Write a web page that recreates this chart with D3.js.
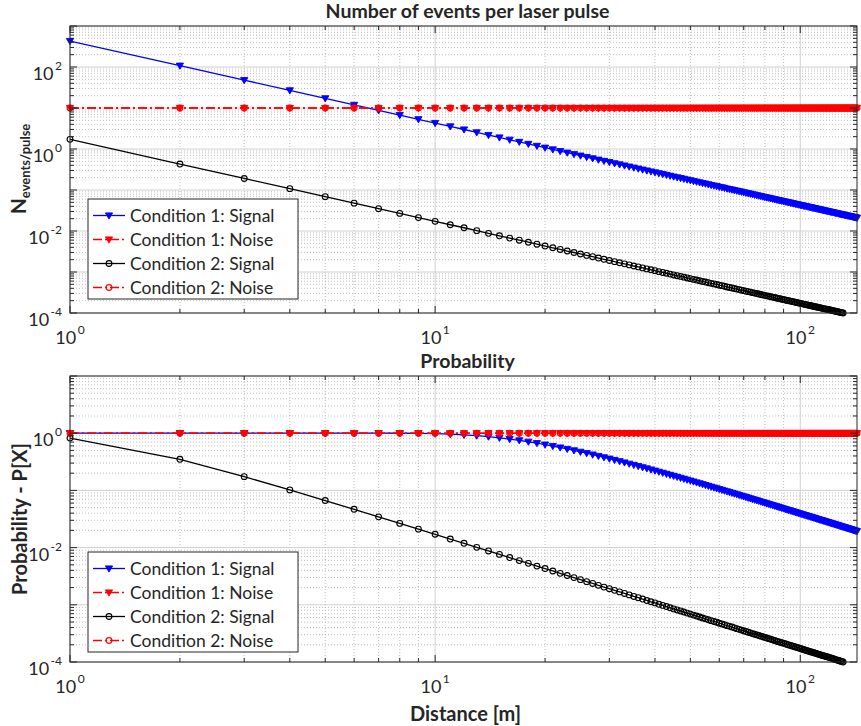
<!DOCTYPE html>
<html>
<head>
<meta charset="utf-8">
<script src="https://cdn.jsdelivr.net/npm/d3@7"></script>
<style>
  body { margin: 0; background: #fff; }
  text { font-family: Lato, "Open Sans", sans-serif; fill: #262626; }
</style>
</head>
<body>
<svg id="chart" width="861" height="726"></svg>
<script>
// distance in metres, one sample per metre
const distance = [
  1,2,3,4,5,6,7,8,9,10,11,12,13,14,15,16,17,18,19,20,
  21,22,23,24,25,26,27,28,29,30,31,32,33,34,35,36,37,38,39,40,
  41,42,43,44,45,46,47,48,49,50,51,52,53,54,55,56,57,58,59,60,
  61,62,63,64,65,66,67,68,69,70,71,72,73,74,75,76,77,78,79,80,
  81,82,83,84,85,86,87,88,89,90,91,92,93,94,95,96,97,98,99,100,
  101,102,103,104,105,106,107,108,109,110,111,112,113,114,115,116,117,118,119,120,
  121,122,123,124,125,126,127,128,129,130,131,132,133,134,135,136,137,138,139,140,
  141,142,143,144,145
];

// events per laser pulse
const cond1Signal = [
  430,107.5,47.8,26.9,17.2,11.9,8.78,6.72,5.31,4.30,
  3.55,2.99,2.54,2.19,1.91,1.68,1.49,1.33,1.19,1.075,
  0.975,0.888,0.813,0.747,0.688,0.636,0.590,0.548,0.511,0.478,
  0.447,0.420,0.395,0.372,0.351,0.332,0.314,0.298,0.283,0.269,
  0.256,0.244,0.233,0.222,0.212,0.203,0.195,0.187,0.179,0.172,
  0.165,0.159,0.153,0.147,0.142,0.137,0.132,0.128,0.124,0.119,
  0.116,0.112,0.108,0.105,0.102,0.0987,0.0958,0.0930,0.0903,0.0878,
  0.0853,0.0829,0.0807,0.0785,0.0764,0.0744,0.0725,0.0707,0.0689,0.0672,
  0.0655,0.0640,0.0624,0.0609,0.0595,0.0581,0.0568,0.0555,0.0543,0.0531,
  0.0519,0.0508,0.0497,0.0487,0.0476,0.0467,0.0457,0.0448,0.0439,0.0430,
  0.0422,0.0413,0.0405,0.0398,0.0390,0.0383,0.0376,0.0369,0.0362,0.0355,
  0.0349,0.0343,0.0337,0.0331,0.0325,0.0320,0.0314,0.0309,0.0304,0.0299,
  0.0294,0.0289,0.0284,0.0280,0.0275,0.0271,0.0267,0.0262,0.0258,0.0254,
  0.0251,0.0247,0.0243,0.0239,0.0236,0.0232,0.0229,0.0226,0.0223,0.0219,
  0.0216,0.0213,0.0210,0.0207,0.0205
];
const cond1Noise = [
  10,10,10,10,10,10,10,10,10,10,10,10,10,10,10,10,10,10,10,10,
  10,10,10,10,10,10,10,10,10,10,10,10,10,10,10,10,10,10,10,10,
  10,10,10,10,10,10,10,10,10,10,10,10,10,10,10,10,10,10,10,10,
  10,10,10,10,10,10,10,10,10,10,10,10,10,10,10,10,10,10,10,10,
  10,10,10,10,10,10,10,10,10,10,10,10,10,10,10,10,10,10,10,10,
  10,10,10,10,10,10,10,10,10,10,10,10,10,10,10,10,10,10,10,10,
  10,10,10,10,10,10,10,10,10,10,10,10,10,10,10,10,10,10,10,10,
  10,10,10,10,10
];
const cond2Signal = [
  1.72,0.430,0.191,0.108,0.0688,0.0478,0.0351,0.0269,0.0212,0.0172,
  0.0142,0.0120,0.0102,0.00876,0.00764,0.00672,0.00596,0.00532,0.00476,0.00430,
  0.00390,0.00355,0.00325,0.00299,0.00275,0.00254,0.00236,0.00219,0.00204,0.00191,
  0.00179,0.00168,0.00158,0.00149,0.00140,0.00133,0.00126,0.00119,0.00113,0.00108,
  0.00102,0.000976,0.000932,0.000888,0.000848,0.000812,0.000780,0.000748,0.000716,0.000688,
  0.000660,0.000636,0.000612,0.000588,0.000568,0.000548,0.000528,0.000512,0.000496,0.000476,
  0.000464,0.000448,0.000432,0.000420,0.000408,0.000395,0.000383,0.000372,0.000361,0.000351,
  0.000341,0.000332,0.000323,0.000314,0.000306,0.000298,0.000290,0.000283,0.000276,0.000269,
  0.000262,0.000256,0.000250,0.000244,0.000238,0.000232,0.000227,0.000222,0.000217,0.000212,
  0.000208,0.000203,0.000199,0.000195,0.000190,0.000187,0.000183,0.000179,0.000176,0.000172,
  0.000169,0.000165,0.000162,0.000159,0.000156,0.000153,0.000150,0.000148,0.000145,0.000142,
  0.000140,0.000137,0.000135,0.000132,0.000130,0.000128,0.000126,0.000124,0.000122,0.000120,
  0.000118,0.000116,0.000114,0.000112,0.000110,0.000108,0.000107,0.000105,0.000103,0.000102,
  0.000100,0.0000988,0.0000972,0.0000956,0.0000944,0.0000928,0.0000916,0.0000904,0.0000892,0.0000876,
  0.0000864,0.0000852,0.0000840,0.0000828,0.0000820
];
const cond2Noise = [
  10,10,10,10,10,10,10,10,10,10,10,10,10,10,10,10,10,10,10,10,
  10,10,10,10,10,10,10,10,10,10,10,10,10,10,10,10,10,10,10,10,
  10,10,10,10,10,10,10,10,10,10,10,10,10,10,10,10,10,10,10,10,
  10,10,10,10,10,10,10,10,10,10,10,10,10,10,10,10,10,10,10,10,
  10,10,10,10,10,10,10,10,10,10,10,10,10,10,10,10,10,10,10,10,
  10,10,10,10,10,10,10,10,10,10,10,10,10,10,10,10,10,10,10,10,
  10,10,10,10,10,10,10,10,10,10,10,10,10,10,10,10,10,10,10,10,
  10,10,10,10,10
];

// probability P[X]
const cond1SignalP = [
  1,1,1,1,1,0.99998,0.99971,0.99807,0.9929,0.9817,
  0.9633,0.9378,0.9062,0.8701,0.831,0.7904,0.7494,0.709,0.6698,0.6321,
  0.5963,0.5624,0.5305,0.5006,0.4727,0.4466,0.4223,0.3996,0.3785,0.3588,
  0.3405,0.3233,0.3074,0.2925,0.2786,0.2655,0.2534,0.2419,0.2312,0.2212,
  0.2118,0.2029,0.1945,0.1867,0.1792,0.1722,0.1656,0.1594,0.1535,0.1479,
  0.1426,0.1375,0.1327,0.1282,0.1238,0.1198,0.1158,0.1121,0.1085,0.1052,
  0.1019,0.0988,0.0959,0.0931,0.0904,0.0877,0.0853,0.0829,0.0806,0.0784,
  0.0763,0.0743,0.0723,0.0704,0.0686,0.0669,0.0653,0.0636,0.0621,0.0606,
  0.0591,0.0577,0.0564,0.0551,0.0538,0.0526,0.0515,0.0503,0.0492,0.0482,
  0.0471,0.0461,0.0452,0.0442,0.0433,0.0425,0.0416,0.0408,0.0400,0.0392,
  0.0384,0.0377,0.0370,0.0363,0.0356,0.0350,0.0343,0.0337,0.0331,0.0325,
  0.0319,0.0314,0.0308,0.0303,0.0298,0.0293,0.0288,0.0283,0.0279,0.0274,
  0.0270,0.0265,0.0261,0.0257,0.0253,0.0249,0.0245,0.0241,0.0238,0.0234,
  0.0230,0.0227,0.0224,0.0220,0.0217,0.0214,0.0211,0.0208,0.0205,0.0202,
  0.0199,0.0196,0.0194,0.0191,0.0188
];
const cond1NoiseP = [
  1,1,1,1,1,1,1,1,1,1,1,1,1,1,1,1,1,1,1,1,
  1,1,1,1,1,1,1,1,1,1,1,1,1,1,1,1,1,1,1,1,
  1,1,1,1,1,1,1,1,1,1,1,1,1,1,1,1,1,1,1,1,
  1,1,1,1,1,1,1,1,1,1,1,1,1,1,1,1,1,1,1,1,
  1,1,1,1,1,1,1,1,1,1,1,1,1,1,1,1,1,1,1,1,
  1,1,1,1,1,1,1,1,1,1,1,1,1,1,1,1,1,1,1,1,
  1,1,1,1,1,1,1,1,1,1,1,1,1,1,1,1,1,1,1,1,
  1,1,1,1,1
];
const cond2SignalP = [
  0.821,0.350,0.174,0.102,0.0665,0.0467,0.0345,0.0265,0.0210,0.0171,
  0.0141,0.0119,0.0101,0.00874,0.00761,0.00670,0.00593,0.00530,0.00475,0.00430,
  0.00390,0.00355,0.00325,0.00299,0.00275,0.00254,0.00236,0.00219,0.00204,0.00191,
  0.00179,0.00168,0.00158,0.00149,0.00140,0.00133,0.00126,0.00119,0.00113,0.00108,
  0.00102,0.000976,0.000932,0.000888,0.000848,0.000812,0.000780,0.000748,0.000716,0.000688,
  0.000660,0.000636,0.000612,0.000588,0.000568,0.000548,0.000528,0.000512,0.000496,0.000476,
  0.000464,0.000448,0.000432,0.000420,0.000408,0.000395,0.000383,0.000372,0.000361,0.000351,
  0.000341,0.000332,0.000323,0.000314,0.000306,0.000298,0.000290,0.000283,0.000276,0.000269,
  0.000262,0.000256,0.000250,0.000244,0.000238,0.000232,0.000227,0.000222,0.000217,0.000212,
  0.000208,0.000203,0.000199,0.000195,0.000190,0.000187,0.000183,0.000179,0.000176,0.000172,
  0.000169,0.000165,0.000162,0.000159,0.000156,0.000153,0.000150,0.000148,0.000145,0.000142,
  0.000140,0.000137,0.000135,0.000132,0.000130,0.000128,0.000126,0.000124,0.000122,0.000120,
  0.000118,0.000116,0.000114,0.000112,0.000110,0.000108,0.000107,0.000105,0.000103,0.000102,
  0.000100,0.0000988,0.0000972,0.0000956,0.0000944,0.0000928,0.0000916,0.0000904,0.0000892,0.0000876,
  0.0000864,0.0000852,0.0000840,0.0000828,0.0000820
];
const cond2NoiseP = cond1NoiseP.slice();

const seriesNames = ['Condition 1: Signal', 'Condition 1: Noise', 'Condition 2: Signal', 'Condition 2: Noise'];
const xTicks = [1, 10, 100];

const svg = d3.select('#chart');
const plotLeft = 70, plotRight = 857;
const axisColor = '#262626';
const dashDot = '9,3,2,3';

const styles = [
  {color: '#0000ff', dash: null, marker: 'tri'},
  {color: '#ff0000', dash: dashDot, marker: 'tri'},
  {color: '#000000', dash: null, marker: 'circle'},
  {color: '#ff0000', dash: dashDot, marker: 'circle'}
];

function drawMarker(sel, kind, color) {
  if (kind === 'tri') {
    sel.append('path')
      .attr('d', 'M-3.6,-2.6L3.6,-2.6L0,3.6Z')
      .attr('fill', color)
      .attr('stroke', color)
      .attr('stroke-width', 0.9);
  } else {
    sel.append('circle')
      .attr('r', 2.9)
      .attr('fill', 'none')
      .attr('stroke', color)
      .attr('stroke-width', 1.1);
  }
}

function powLabel(sel, exp) {
  sel.append('tspan').text('10');
  sel.append('tspan').attr('dy', -10).attr('font-size', 12).text('\u2009' + exp);
}

function drawPanel(p, idx) {
  const x = d3.scaleLog().domain([1, 143]).range([plotLeft, plotRight]);
  const y = d3.scaleLog().domain(p.yDomain).range([p.bottom, p.top]);
  const g = svg.append('g');

  const e0 = Math.round(Math.log10(p.yDomain[0]));
  const e1 = Math.round(Math.log10(p.yDomain[1]));
  const yMajor = d3.range(e0, e1 + 1).map(e => Math.pow(10, e));
  const yMinor = [];
  for (let e = e0; e < e1; e++) for (let m = 2; m <= 9; m++) yMinor.push(m * Math.pow(10, e));
  const xMinor = [];
  for (const k of xTicks) for (let m = 2; m <= 9; m++) if (k * m <= 143) xMinor.push(k * m);

  // minor grid (dotted)
  g.selectAll('.xmin').data(xMinor).enter().append('line')
    .attr('x1', d => x(d)).attr('x2', d => x(d))
    .attr('y1', p.top).attr('y2', p.bottom)
    .attr('stroke', '#b0b0b0').attr('stroke-width', 0.8).attr('stroke-dasharray', '1,2');
  g.selectAll('.ymin').data(yMinor).enter().append('line')
    .attr('x1', plotLeft).attr('x2', plotRight)
    .attr('y1', d => y(d)).attr('y2', d => y(d))
    .attr('stroke', '#b0b0b0').attr('stroke-width', 0.8).attr('stroke-dasharray', '1,2');
  // major grid
  g.selectAll('.xmaj').data(xTicks).enter().append('line')
    .attr('x1', d => x(d)).attr('x2', d => x(d))
    .attr('y1', p.top).attr('y2', p.bottom)
    .attr('stroke', '#d0d0d0').attr('stroke-width', 1);
  g.selectAll('.ymaj').data(yMajor).enter().append('line')
    .attr('x1', plotLeft).attr('x2', plotRight)
    .attr('y1', d => y(d)).attr('y2', d => y(d))
    .attr('stroke', '#d0d0d0').attr('stroke-width', 1);

  // clip for lines
  const clipId = 'clip' + idx;
  svg.append('clipPath').attr('id', clipId).append('rect')
    .attr('x', plotLeft).attr('y', p.top).attr('width', plotRight - plotLeft).attr('height', p.bottom - p.top);

  const line = d3.line().x(d => x(d[0])).y(d => y(d[1]));
  p.series.forEach((vals, i) => {
    const st = styles[i];
    const pts = distance.map((d, j) => [d, vals[j]]);
    g.append('path')
      .attr('d', line(pts))
      .attr('clip-path', 'url(#' + clipId + ')')
      .attr('fill', 'none')
      .attr('stroke', st.color)
      .attr('stroke-width', 1.3)
      .attr('stroke-dasharray', st.dash);
    const visible = pts.filter(d => d[0] <= 143 && d[1] >= p.yDomain[0] && d[1] <= p.yDomain[1]);
    const mk = g.append('g').selectAll('g').data(visible).enter().append('g')
      .attr('transform', d => `translate(${x(d[0])},${y(d[1])})`);
    drawMarker(mk, st.marker, st.color);
  });

  // box and ticks
  g.append('rect')
    .attr('x', plotLeft).attr('y', p.top).attr('width', plotRight - plotLeft).attr('height', p.bottom - p.top)
    .attr('fill', 'none').attr('stroke', axisColor).attr('stroke-width', 1);
  const tk = g.append('g').attr('stroke', axisColor).attr('stroke-width', 1);
  xTicks.forEach(v => {
    tk.append('line').attr('x1', x(v)).attr('x2', x(v)).attr('y1', p.bottom).attr('y2', p.bottom - 7);
    tk.append('line').attr('x1', x(v)).attr('x2', x(v)).attr('y1', p.top).attr('y2', p.top + 7);
  });
  xMinor.forEach(v => {
    tk.append('line').attr('x1', x(v)).attr('x2', x(v)).attr('y1', p.bottom).attr('y2', p.bottom - 4);
    tk.append('line').attr('x1', x(v)).attr('x2', x(v)).attr('y1', p.top).attr('y2', p.top + 4);
  });
  yMajor.forEach(v => {
    tk.append('line').attr('x1', plotLeft).attr('x2', plotLeft + 7).attr('y1', y(v)).attr('y2', y(v));
    tk.append('line').attr('x1', plotRight).attr('x2', plotRight - 7).attr('y1', y(v)).attr('y2', y(v));
  });
  yMinor.forEach(v => {
    tk.append('line').attr('x1', plotLeft).attr('x2', plotLeft + 4).attr('y1', y(v)).attr('y2', y(v));
    tk.append('line').attr('x1', plotRight).attr('x2', plotRight - 4).attr('y1', y(v)).attr('y2', y(v));
  });

  // tick labels
  xTicks.forEach(v => {
    const t = g.append('text')
      .attr('x', x(v)).attr('y', p.bottom + 31)
      .attr('text-anchor', 'middle').attr('font-size', 18);
    powLabel(t, Math.round(Math.log10(v)));
  });
  yMajor.filter(v => (Math.round(Math.log10(v)) % 2) === 0).forEach(v => {
    const t = g.append('text')
      .attr('x', plotLeft - 8).attr('y', y(v) + 13)
      .attr('text-anchor', 'end').attr('font-size', 18);
    powLabel(t, Math.round(Math.log10(v)));
  });

  // title
  g.append('text')
    .attr('x', (plotLeft + plotRight) / 2 + 4).attr('y', p.top - 8)
    .attr('text-anchor', 'middle').attr('font-size', 19.5).attr('font-weight', 'bold')
    .text(p.title);

  // legend
  const lg = g.append('g').attr('transform', `translate(88,${p.legendTop})`);
  lg.append('rect').attr('width', 210).attr('height', 100)
    .attr('fill', '#fff').attr('stroke', axisColor).attr('stroke-width', 1);
  seriesNames.forEach((name, i) => {
    const st = styles[i];
    const ry = 16.5 + i * 24;
    lg.append('line').attr('x1', 5).attr('x2', 37).attr('y1', ry).attr('y2', ry)
      .attr('stroke', st.color).attr('stroke-width', 1.3).attr('stroke-dasharray', st.dash);
    drawMarker(lg.append('g').attr('transform', `translate(21,${ry})`), st.marker, st.color);
    lg.append('text').attr('x', 42).attr('y', ry + 6).attr('font-size', 17.5).text(name);
  });
  return g;
}

drawPanel({
  title: 'Number of events per laser pulse',
  yDomain: [1e-4, 1e3], top: 26, bottom: 313, legendTop: 199,
  series: [cond1Signal, cond1Noise, cond2Signal, cond2Noise]
}, 0);
drawPanel({
  title: 'Probability',
  yDomain: [1e-4, 10], top: 376, bottom: 662, legendTop: 552,
  series: [cond1SignalP, cond1NoiseP, cond2SignalP, cond2NoiseP]
}, 1);

// axis labels
const yl1 = svg.append('text')
  .attr('transform', 'translate(26,169) rotate(-90)')
  .attr('text-anchor', 'middle').attr('font-weight', 'bold').attr('font-size', 21);
yl1.append('tspan').text('N');
yl1.append('tspan').attr('dy', 4).attr('font-size', 13).text('events/pulse');

svg.append('text')
  .attr('transform', 'translate(27,519) rotate(-90)')
  .attr('text-anchor', 'middle').attr('font-weight', 'bold').attr('font-size', 20)
  .text('Probability - P[X]');

svg.append('text')
  .attr('x', (plotLeft + plotRight) / 2 + 2).attr('y', 721)
  .attr('text-anchor', 'middle').attr('font-weight', 'bold').attr('font-size', 20)
  .text('Distance [m]');
</script>
</body>
</html>
